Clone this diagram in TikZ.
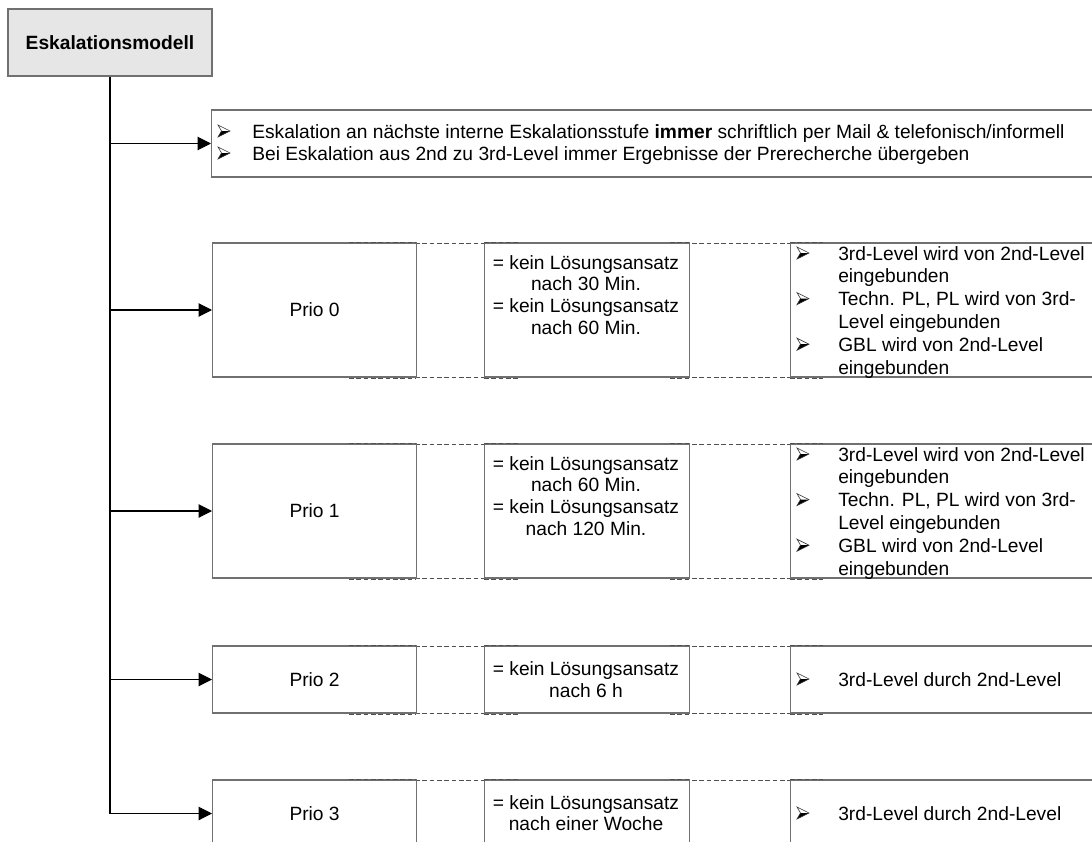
\documentclass[tikz,border=0pt]{standalone}
\usepackage{fontspec}
\setmainfont{Liberation Sans}
\usetikzlibrary{arrows.meta}

\definecolor{boxline}{RGB}{112,112,112}
\definecolor{titlefill}{RGB}{230,230,230}
\definecolor{dashline}{RGB}{80,80,80}

\newcommand\fs{\fontsize{14.4pt}{16.5pt}\selectfont}

\tikzset{
  x=0.75pt, y=-0.75pt,
  box/.style={draw=boxline, line width=0.9pt, fill=white, inner sep=0pt, font=\fs},
  titlebox/.style={box, fill=titlefill, font=\fs\bfseries},
  arr/.style={draw=black, line width=0.8pt, -{Triangle[length=10pt,width=10pt]}},
  trunk/.style={draw=black, line width=1.3pt},
  link/.style={draw=dashline, line width=0.7pt, dash pattern=on 3.5pt off 2pt},
  txt/.style={anchor=base west, inner sep=0pt, font=\fs},
  ctxt/.style={anchor=base, inner sep=0pt, font=\fs},
  % three-d arrowhead bullet, placed at its back edge, centred on the line
  arrowbullet/.pic={
    \fill[black] (0,6) -- (3.5,0) -- (12,0) -- cycle;
    \draw[black!80, line width=0.45pt, line join=miter]
      (0,-6) -- (12,0) -- (0,6) -- (3.5,0) -- cycle;
  },
}

\begin{document}
\begin{tikzpicture}
\clip (0,0) rectangle (1092,842);
\fill[white] (0,0) rectangle (1092,842);

% header
\node[titlebox, minimum width=153pt, minimum height=50.25pt] (title) at (110,42.5) {Eskalationsmodell};

% general rules box
\node[box, anchor=west, minimum width=667pt, minimum height=50.25pt] (rules) at (211,143.5) {};
\pic at (218,131) {arrowbullet};
\node[txt] (rt1) at (252,138) {Eskalation an nächste interne Eskalationsstufe \textbf{immer} schriftlich per Mail \& telefonisch/informell};
\pic at (218,153) {arrowbullet};
\node[txt] (rt2) at (252,160) {Bei Eskalation aus 2nd zu 3rd-Level immer Ergebnisse der Prerecherche übergeben};

% priority rows: dashed links behind the boxes
\foreach \yt/\yb in {243/377, 444/578, 646/713, 780/847}{
  \draw[link] (349,\yt) -- (520,\yt);
  \draw[link] (670,\yt) -- (823,\yt);
  \draw[link] (349,\yb) -- (520,\yb);
  \draw[link] (670,\yb) -- (823,\yb);
}

% Prio 0
\node[box, anchor=west, minimum width=153pt, minimum height=100.5pt] (p0) at (212,310) {Prio 0};
\node[box, anchor=west, minimum width=153.75pt, minimum height=100.5pt] (m0) at (484,310) {};
\node[box, anchor=west, minimum width=232.5pt, minimum height=100.5pt] (r0) at (790,310) {};
% Prio 1
\node[box, anchor=west, minimum width=153pt, minimum height=100.5pt] (p1) at (212,511) {Prio 1};
\node[box, anchor=west, minimum width=153.75pt, minimum height=100.5pt] (m1) at (484,511) {};
\node[box, anchor=west, minimum width=232.5pt, minimum height=100.5pt] (r1) at (790,511) {};
% Prio 2
\node[box, anchor=west, minimum width=153pt, minimum height=50.25pt] (p2) at (212,679.5) {Prio 2};
\node[box, anchor=west, minimum width=153.75pt, minimum height=50.25pt] (m2) at (484,679.5) {};
\node[box, anchor=west, minimum width=232.5pt, minimum height=50.25pt] (r2) at (790,679.5) {};
% Prio 3
\node[box, anchor=west, minimum width=153pt, minimum height=50.25pt] (p3) at (212,813.5) {Prio 3};
\node[box, anchor=west, minimum width=153.75pt, minimum height=50.25pt] (m3) at (484,813.5) {};
\node[box, anchor=west, minimum width=232.5pt, minimum height=50.25pt] (r3) at (790,813.5) {};

% dashed links drawn over the box edges
\foreach \yt/\yb in {243/377, 444/578, 646/713, 780/847}{
  \draw[link] (349,\yt-1) -- (416,\yt-1);
  \draw[link] (484,\yt-1) -- (520,\yt-1);
  \draw[link] (670,\yt-1) -- (689,\yt-1);
  \draw[link] (790,\yt-1) -- (823,\yt-1);
  \draw[link] (349,\yb+1) -- (416,\yb+1);
  \draw[link] (484,\yb+1) -- (520,\yb+1);
  \draw[link] (670,\yb+1) -- (689,\yb+1);
  \draw[link] (790,\yb+1) -- (823,\yb+1);
}

% time limits
\node[ctxt] at (586,269) {= kein Lösungsansatz};
\node[ctxt] at (586,290) {nach 30 Min.};
\node[ctxt] at (586,312) {= kein Lösungsansatz};
\node[ctxt] at (586,334) {nach 60 Min.};

\node[ctxt] at (586,470) {= kein Lösungsansatz};
\node[ctxt] at (586,491) {nach 60 Min.};
\node[ctxt] at (586,513) {= kein Lösungsansatz};
\node[ctxt] at (586,535) {nach 120 Min.};

\node[ctxt] at (586,675) {= kein Lösungsansatz};
\node[ctxt] at (586,697) {nach 6 h};

\node[ctxt] at (586,809) {= kein Lösungsansatz};
\node[ctxt] at (586,830) {nach einer Woche};

% involved levels
\foreach \dy in {0,201}{
  \pic at (797,253+\dy) {arrowbullet};
  \node[txt] at (838,260+\dy) {3rd-Level wird von 2nd-Level};
  \node[txt] at (838,282.8+\dy) {eingebunden};
  \pic at (797,298.6+\dy) {arrowbullet};
  \node[txt] at (838,305.6+\dy) {Techn. PL, PL wird von 3rd-};
  \node[txt] at (838,328.4+\dy) {Level eingebunden};
  \pic at (797,344.2+\dy) {arrowbullet};
  \node[txt] at (838,351.2+\dy) {GBL wird von 2nd-Level};
  \node[txt] at (838,374+\dy) {eingebunden};
}
\pic at (797,679) {arrowbullet};
\node[txt] at (838,686) {3rd-Level durch 2nd-Level};
\pic at (797,813) {arrowbullet};
\node[txt] at (838,820) {3rd-Level durch 2nd-Level};

% trunk and branches
\draw[trunk] (title.south) -- (title.south |- p3.west);
\draw[arr] (title.south |- rules.west) -- (rules.west);
\draw[arr] (title.south |- p0.west) -- (p0.west);
\draw[arr] (title.south |- p1.west) -- (p1.west);
\draw[arr] (title.south |- p2.west) -- (p2.west);
\draw[arr] (title.south |- p3.west) -- (p3.west);
\end{tikzpicture}
\end{document}
